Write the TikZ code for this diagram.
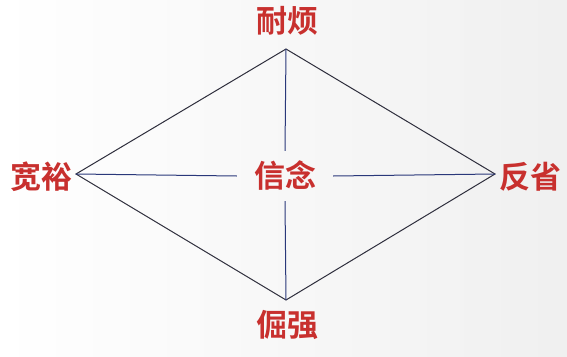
\documentclass[tikz,border=0pt]{standalone}
\usepackage{fontspec}
\newfontfamily\cjk{Noto Sans CJK SC Bold}
\definecolor{lbl}{HTML}{C8302E}
\definecolor{edge}{HTML}{2E2E3C}
\definecolor{cross}{HTML}{2A387A}
\begin{document}
\begin{tikzpicture}[x=1pt,y=-1pt,
  lab/.style={text=lbl,font=\cjk\fontsize{31}{31}\selectfont,inner sep=0pt},
  edgeline/.style={draw=edge,line width=1pt},
  crossline/.style={draw=cross,line width=1pt}]
\shade[left color=white,right color=gray!12] (0,0) rectangle (567,356);
\useasboundingbox (0,0) rectangle (567,356);
\coordinate (T) at (286,49);
\coordinate (L) at (76,174);
\coordinate (R) at (495,174);
\coordinate (B) at (286,300);
\node[lab] (nt) at (287,21) {耐烦};
\node[lab] (nl) at (41,177) {宽裕};
\node[lab] (nr) at (530,177) {反省};
\node[lab] (nb) at (287,325) {倔强};
\node[lab,minimum width=96pt,minimum height=50pt] (c) at (285,176) {信念};
\draw[edgeline] (T) -- (L) -- (B) -- (R) -- cycle;
\draw[crossline] (T) -- (c.north);
\draw[crossline] (c.south) -- (B);
\draw[crossline] (L) -- (c.west);
\draw[crossline] (c.east) -- (R);
\end{tikzpicture}
\end{document}
